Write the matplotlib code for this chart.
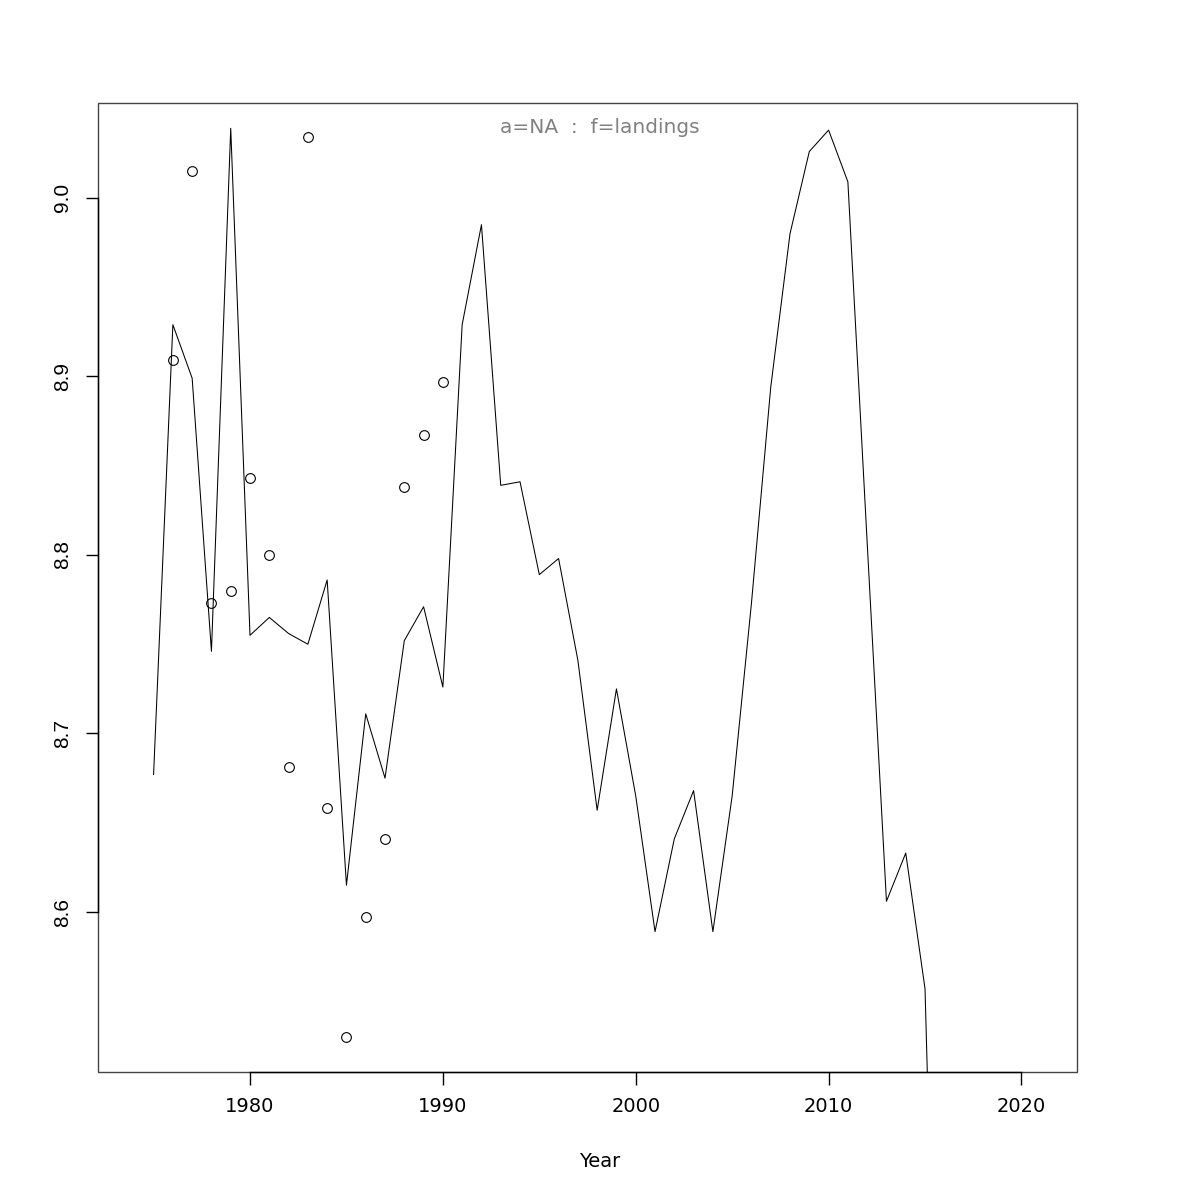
import matplotlib
matplotlib.use('Agg')
import matplotlib.pyplot as plt
from matplotlib.patches import Rectangle

# line series (landings index), one value per year
tahun_garis = list(range(1975, 2017))
nilai_garis = [8.677, 8.929, 8.899, 8.746, 9.039, 8.755, 8.765, 8.756, 8.750, 8.786,
               8.615, 8.711, 8.675, 8.752, 8.771, 8.726, 8.929, 8.985, 8.839, 8.841,
               8.789, 8.798, 8.741, 8.657, 8.725, 8.665, 8.589, 8.641, 8.668, 8.589,
               8.665, 8.773, 8.894, 8.980, 9.026, 9.038, 9.009, 8.807, 8.606, 8.633,
               8.557, 8.16]

# observed points
tahun_titik = list(range(1976, 1991))
nilai_titik = [8.909, 9.015, 8.773, 8.780, 8.843, 8.800, 8.681, 9.034, 8.658, 8.530,
               8.597, 8.641, 8.838, 8.867, 8.897]

x_ticks = [1980, 1990, 2000, 2010, 2020]
y_ticks = [8.6, 8.7, 8.8, 8.9, 9.0]

fig = plt.figure(figsize=(12, 12), dpi=100)
ax = fig.add_axes([0.0817, 0.1067, 0.8158, 0.8075])

ax.plot(tahun_garis, nilai_garis, color='black', lw=0.75)
ax.plot(tahun_titik, nilai_titik, 'o', mfc='none', mec='black', ms=7, mew=0.8)

ax.set_xlim(1972.12, 2022.88)
ax.set_ylim(8.5104, 9.0532)

for s in ['top', 'right']:
    ax.spines[s].set_visible(False)
ax.spines['bottom'].set_bounds(1980, 2020)
ax.spines['left'].set_bounds(8.6, 9.0)
ax.spines['bottom'].set_linewidth(1)
ax.spines['left'].set_linewidth(1)
ax.add_patch(Rectangle((0, 0), 1, 1, transform=ax.transAxes, fill=False,
                       ec='#444444', lw=1, clip_on=False))

ax.set_xticks(x_ticks)
ax.set_xticklabels([str(t) for t in x_ticks], fontsize=14, family='DejaVu Sans')
ax.set_yticks(y_ticks)
ax.set_yticklabels(['%.1f' % t for t in y_ticks], fontsize=15, rotation=90,
                   va='center', family='Liberation Sans')
ax.tick_params(axis='x', direction='out', length=9, width=1, pad=9)
ax.tick_params(axis='y', direction='out', length=9, width=1, pad=10)

fig.text(0.5, 0.0317, 'Year', ha='center', va='center', fontsize=14)
fig.text(0.5, 0.894, 'a=NA  :  f=landings', ha='center', va='center',
         fontsize=14.5, color='#808080')

plt.savefig('out.png')
plt.close()
